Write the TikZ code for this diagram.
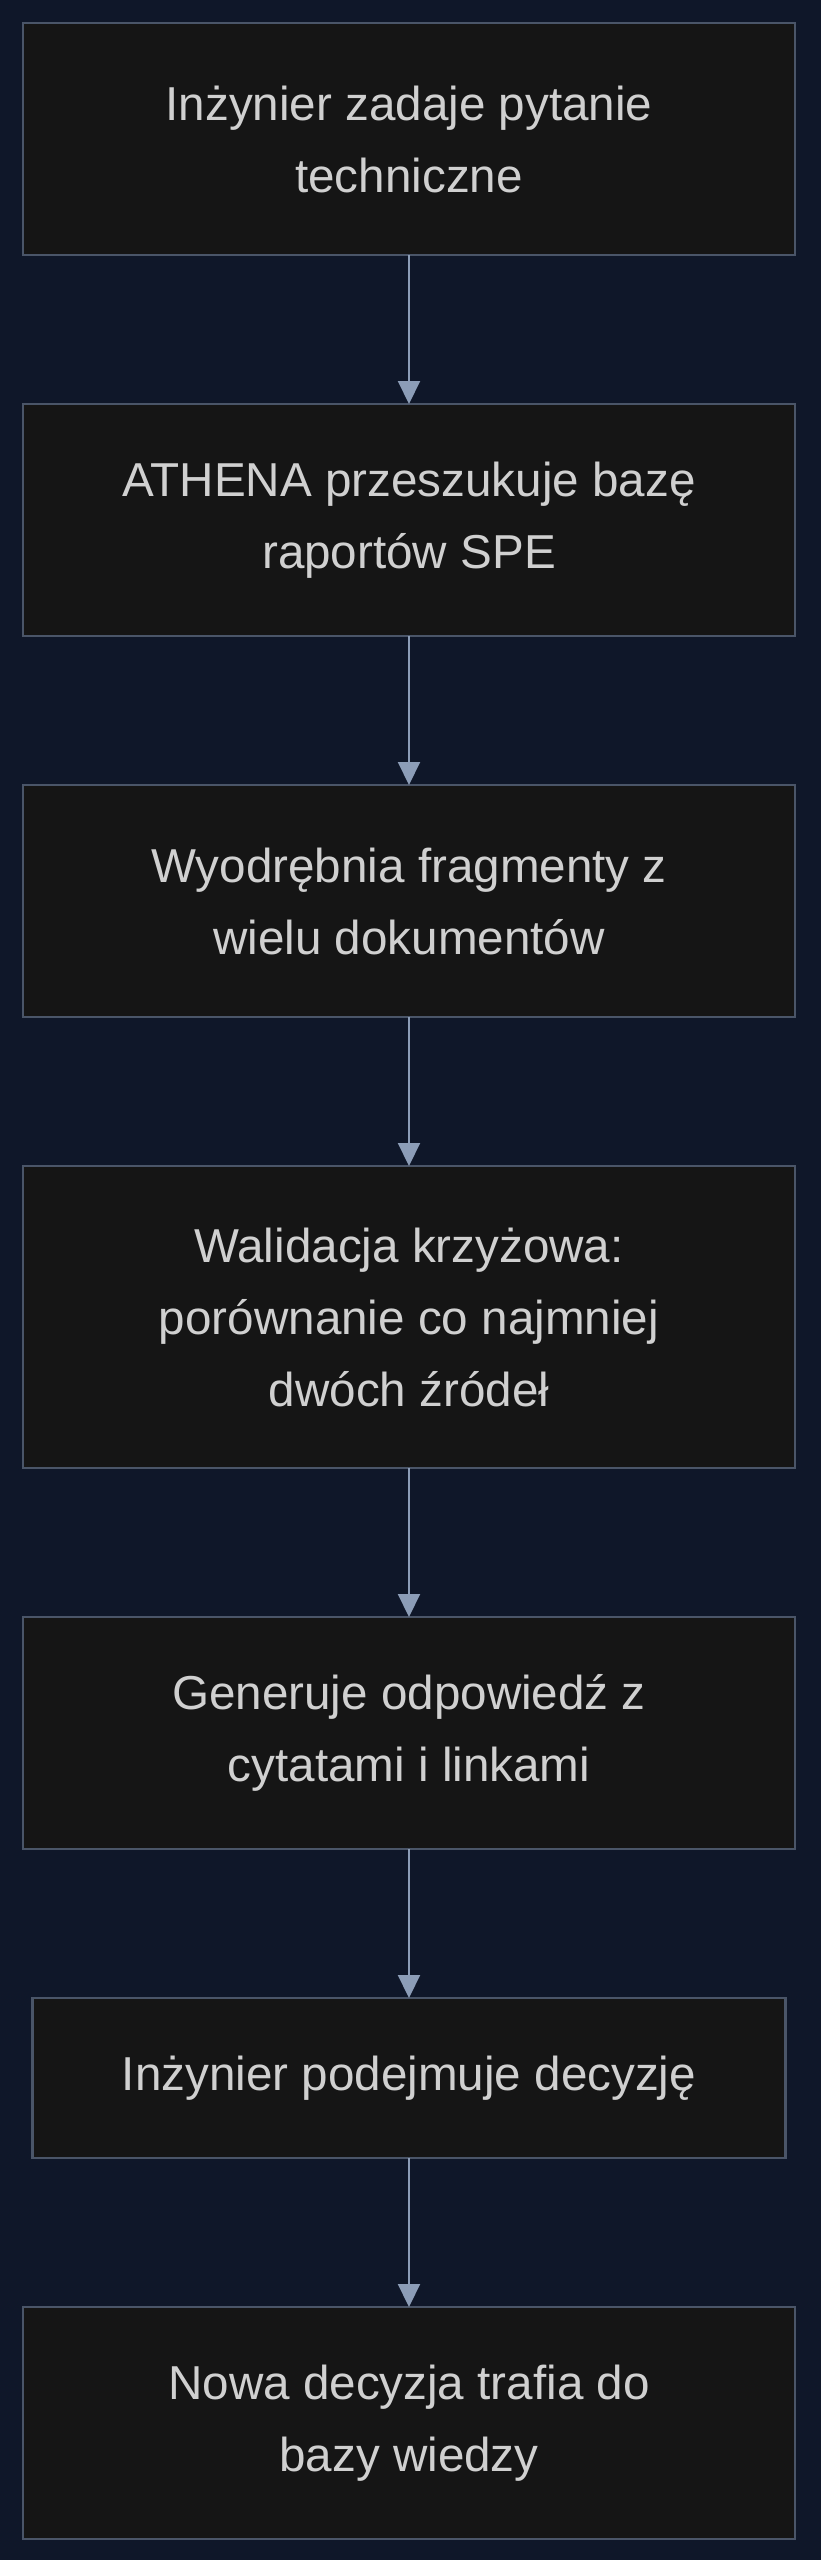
\documentclass[tikz,border=0pt]{standalone}
\usepackage{fontspec}
\setmainfont{Liberation Sans}
\usepackage{tikz}
\usetikzlibrary{positioning}
\usetikzlibrary{arrows.meta}

\definecolor{bgnavy}{RGB}{15,23,41}
\definecolor{boxfill}{RGB}{21,21,21}
\definecolor{boxline}{RGB}{74,85,104}
\definecolor{txtgrey}{RGB}{208,208,208}
\definecolor{arrowgrey}{RGB}{140,157,183}

\begin{document}
\begin{tikzpicture}[x=1pt,y=1pt]
      \tikzset{stepbox/.style={rectangle,fill=boxfill,draw=boxline,line width=2.5pt,
          minimum width=772pt,minimum height=232pt,align=center,text=txtgrey,
          font=\fontsize{47.6}{72}\selectfont,inner sep=0pt,outer sep=0pt},
        flowarrow/.style={draw=arrowgrey,line width=2pt,
          -{Triangle[width=22pt,length=23pt]}}}
      \def\gap{149pt}
      \useasboundingbox (0,0) rectangle (820,-2560);
      \fill[bgnavy] (-5,5) rectangle (825,-2565);

\node[stepbox] (ask) at (409,-139) {Inżynier zadaje pytanie\\techniczne};
\node[stepbox,below=\gap of ask] (search) {ATHENA przeszukuje bazę\\raportów SPE};
\node[stepbox,below=\gap of search] (extract) {Wyodrębnia fragmenty z\\wielu dokumentów};
\node[stepbox,below=\gap of extract,minimum height=302pt] (validate) {Walidacja krzyżowa:\\porównanie co najmniej\\dwóch źródeł};
\node[stepbox,below=\gap of validate] (answer) {Generuje odpowiedź z\\cytatami i linkami};
\node[stepbox,below=\gap of answer,minimum width=753pt,minimum height=160pt] (decide) {Inżynier podejmuje decyzję};
\node[stepbox,below=\gap of decide] (store) {Nowa decyzja trafia do\\bazy wiedzy};

\foreach \a/\b in {ask/search,search/extract,extract/validate,validate/answer,answer/decide,decide/store}
		\draw[flowarrow] (\a) -- (\b);

    \end{tikzpicture}
\end{document}
